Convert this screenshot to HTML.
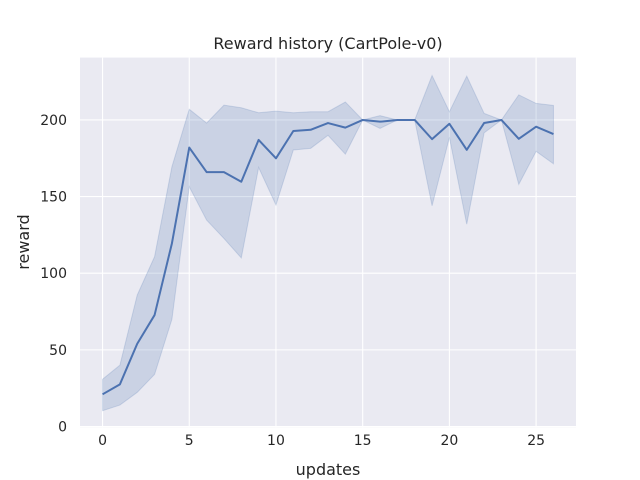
<!DOCTYPE html>
<html><head><meta charset="utf-8"><style>
body{margin:0;background:#fff;}
svg{display:block;font-family:"DejaVu Sans","Liberation Sans",sans-serif;}
</style></head><body>
<svg id="chart" width="640" height="480" xmlns="http://www.w3.org/2000/svg">
<rect x="80" y="57.6" width="496" height="369.6" fill="#eaeaf2"/>
<g id="grid"></g>
<g id="series"></g>
<g id="ticks"></g>
<text x="328" y="49" text-anchor="middle" font-size="16" fill="#262626">Reward history (CartPole-v0)</text>
<text x="328" y="475" text-anchor="middle" font-size="16" fill="#262626">updates</text>
<text x="29" y="242" text-anchor="middle" font-size="16" fill="#262626" transform="rotate(-90 29 242)">reward</text>
</svg>
<script>
const updates=[0,1,2,3,4,5,6,7,8,9,10,11,12,13,14,15,16,17,18,19,20,21,22,23,24,25,26];
const meanReward=[21,27.5,54,72.7,119.5,182,166,166,159.7,187,175,192.8,193.6,198,195,200,198.9,200,200,187.5,197.5,180.5,198,200,187.7,195.6,190.8];
const upperBand=[30.8,40,85.8,110.8,169.5,207,198,209.7,208,204.7,205.8,204.7,205.4,205.4,211.7,200,202.8,200,200,229,205.4,228.6,204.3,200,216.4,210.8,209.5];
const lowerBand=[10.3,14,22.3,34,70,156.4,134.7,122.7,110,169,144.5,180.4,181.5,190,177.7,200,194.5,200,200,144,188.6,132,191.6,200,158,179.5,171.4];
const xTicks=[0,5,10,15,20,25];
const yTicks=[0,50,100,150,200];

const L=80,R=576,T=57.6,B=427.2;
const xMin=-1.3,xMax=27.3,yMin=-0.46,yMax=240.7;
const sx=v=>L+(v-xMin)/(xMax-xMin)*(R-L);
const sy=v=>B-(v-yMin)/(yMax-yMin)*(B-T);
const NS="http://www.w3.org/2000/svg";
function mk(tag,attrs,parent){const e=document.createElementNS(NS,tag);for(const k in attrs)e.setAttribute(k,attrs[k]);parent.appendChild(e);return e;}
const grid=document.getElementById('grid'),ticks=document.getElementById('ticks'),series=document.getElementById('series');
xTicks.forEach(t=>{
  const l=mk('line',{x1:sx(t),x2:sx(t),y1:T,y2:B,stroke:'#fff','stroke-width':1.1},grid);
  
  
  const tx=mk('text',{x:sx(t),y:B+18,'text-anchor':'middle','font-size':14,fill:'#262626'},ticks);
  tx.textContent=t;
  
  
});
yTicks.forEach(t=>{
  const l=mk('line',{x1:L,x2:R,y1:sy(t),y2:sy(t),stroke:'#fff','stroke-width':1.1},grid);
  
  
  const tx=mk('text',{x:L-13,y:sy(t)+5,'text-anchor':'end','font-size':14,fill:'#262626'},ticks);
  tx.textContent=t;
  
  
});
let d='';
updates.forEach((u,i)=>{d+=(i?'L':'M')+sx(u)+','+sy(upperBand[i]);});
for(let i=updates.length-1;i>=0;i--)d+='L'+sx(updates[i])+','+sy(lowerBand[i]);
d+='Z';
const band=mk('path',{d:d,fill:'#4c72b0','fill-opacity':0.2,stroke:'#4c72b0','stroke-opacity':0.2},series);


const pts=updates.map((u,i)=>sx(u)+','+sy(meanReward[i])).join(' ');
const line=mk('polyline',{points:pts,fill:'none',stroke:'#4c72b0','stroke-width':2,'stroke-linejoin':'round'},series);


</script>
</body></html>
